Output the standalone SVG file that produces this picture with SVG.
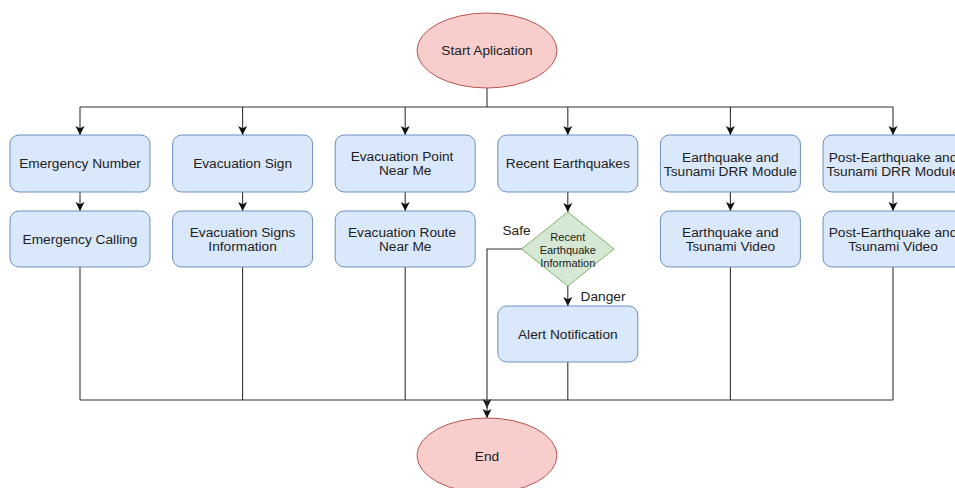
<svg xmlns="http://www.w3.org/2000/svg" width="955" height="488" viewBox="0 0 955 488">
<defs>
<marker id="arr" markerUnits="userSpaceOnUse" markerWidth="10" markerHeight="10" viewBox="0 0 10 10" refX="9" refY="5" orient="auto">
<path d="M0,0.5 L9,5 L0,9.5 L2.2,5 Z" fill="#111"/>
</marker>
<style>
.box{fill:#dae8fc;stroke:#6c8ebf;stroke-width:1}
.ell{fill:#f8cecc;stroke:#b85450;stroke-width:1}
.dia{fill:#d5e8d4;stroke:#82b366;stroke-width:1}
.t{font-family:"Liberation Sans",Arial,sans-serif;font-size:13.7px;fill:#222;text-anchor:middle;dominant-baseline:central}
.s{font-family:"Liberation Sans",Arial,sans-serif;font-size:11px;fill:#222;text-anchor:middle;dominant-baseline:central}
.c{fill:none;stroke:#333;stroke-width:1.1}
.a{fill:none;stroke:#333;stroke-width:1.1;marker-end:url(#arr)}
</style>
</defs>
<rect width="955" height="488" fill="#fff"/>
<g id="connectors">
<path class="c" d="M487,88 V107 M80,107 H893"/>
<path class="a" d="M80,107 V135"/>
<path class="a" d="M242.6,107 V135"/>
<path class="a" d="M405.2,107 V135"/>
<path class="a" d="M567.8,107 V135"/>
<path class="a" d="M730.4,107 V135"/>
<path class="a" d="M893,107 V135"/>
<path class="a" d="M80,192 V211"/>
<path class="a" d="M242.6,192 V211"/>
<path class="a" d="M405.2,192 V211"/>
<path class="a" d="M567.8,192 V212"/>
<path class="a" d="M730.4,192 V211"/>
<path class="a" d="M893,192 V211"/>
<path class="a" d="M567.8,286 V306"/>
<path class="c" d="M80,267 V400 M242.6,267 V400 M405.2,267 V400 M730.4,267 V400 M893,267 V400 M567.8,362 V400 M80,400 H893"/>
<path class="a" d="M487,400 V408"/>
<path class="a" d="M522,249 H487 V418"/>
<text class="t" x="516.5" y="230">Safe</text>
<text class="t" x="603" y="296">Danger</text>
</g>
<g id="start"><ellipse class="ell" cx="487" cy="50.5" rx="70" ry="37.5"/><text class="t" x="487" y="50.5">Start Aplication</text></g>
<g id="emergency-number"><rect class="box" x="10" y="135" width="140" height="57" rx="9"/><text class="t" x="80" y="163.5">Emergency Number</text></g>
<g id="emergency-calling"><rect class="box" x="10" y="211" width="140" height="56" rx="9"/><text class="t" x="80" y="239">Emergency Calling</text></g>
<g id="evacuation-sign"><rect class="box" x="172.6" y="135" width="140" height="57" rx="9"/><text class="t" x="242.6" y="163.5">Evacuation Sign</text></g>
<g id="evacuation-signs-info"><rect class="box" x="172.6" y="211" width="140" height="56" rx="9"/><text class="t" x="242.6" y="232">Evacuation Signs</text><text class="t" x="242.6" y="246">Information</text></g>
<g id="evacuation-point"><rect class="box" x="335.2" y="135" width="140" height="57" rx="9"/><text class="t" x="402" y="156.5">Evacuation Point</text><text class="t" x="405.2" y="170.5">Near Me</text></g>
<g id="evacuation-route"><rect class="box" x="335.2" y="211" width="140" height="56" rx="9"/><text class="t" x="402" y="232">Evacuation Route</text><text class="t" x="405.2" y="246">Near Me</text></g>
<g id="recent-earthquakes"><rect class="box" x="497.8" y="135" width="140" height="57" rx="9"/><text class="t" x="567.8" y="163.5">Recent Earthquakes</text></g>
<g id="decision"><polygon class="dia" points="567.8,212 614,249 567.8,286 521.6,249"/><text class="s" x="567.8" y="236.5">Recent</text><text class="s" x="567.8" y="250">Earthquake</text><text class="s" x="567.8" y="263">Information</text></g>
<g id="alert"><rect class="box" x="497.8" y="306" width="140" height="56" rx="9"/><text class="t" x="567.8" y="334">Alert Notification</text></g>
<g id="drr-module"><rect class="box" x="660.4" y="135" width="140" height="57" rx="9"/><text class="t" x="730.4" y="157">Earthquake and</text><text class="t" x="730.4" y="171">Tsunami DRR Module</text></g>
<g id="video"><rect class="box" x="660.4" y="211" width="140" height="56" rx="9"/><text class="t" x="730.4" y="232">Earthquake and</text><text class="t" x="730.4" y="246">Tsunami Video</text></g>
<g id="post-drr-module"><rect class="box" x="823" y="135" width="140" height="57" rx="9"/><text class="t" x="893" y="157">Post-Earthquake and</text><text class="t" x="893" y="171">Tsunami DRR Module</text></g>
<g id="post-video"><rect class="box" x="823" y="211" width="140" height="56" rx="9"/><text class="t" x="893" y="232">Post-Earthquake and</text><text class="t" x="893" y="246">Tsunami Video</text></g>
<g id="end"><ellipse class="ell" cx="487" cy="455.5" rx="70" ry="37.5"/><text class="t" x="487" y="456">End</text></g>
</svg>
